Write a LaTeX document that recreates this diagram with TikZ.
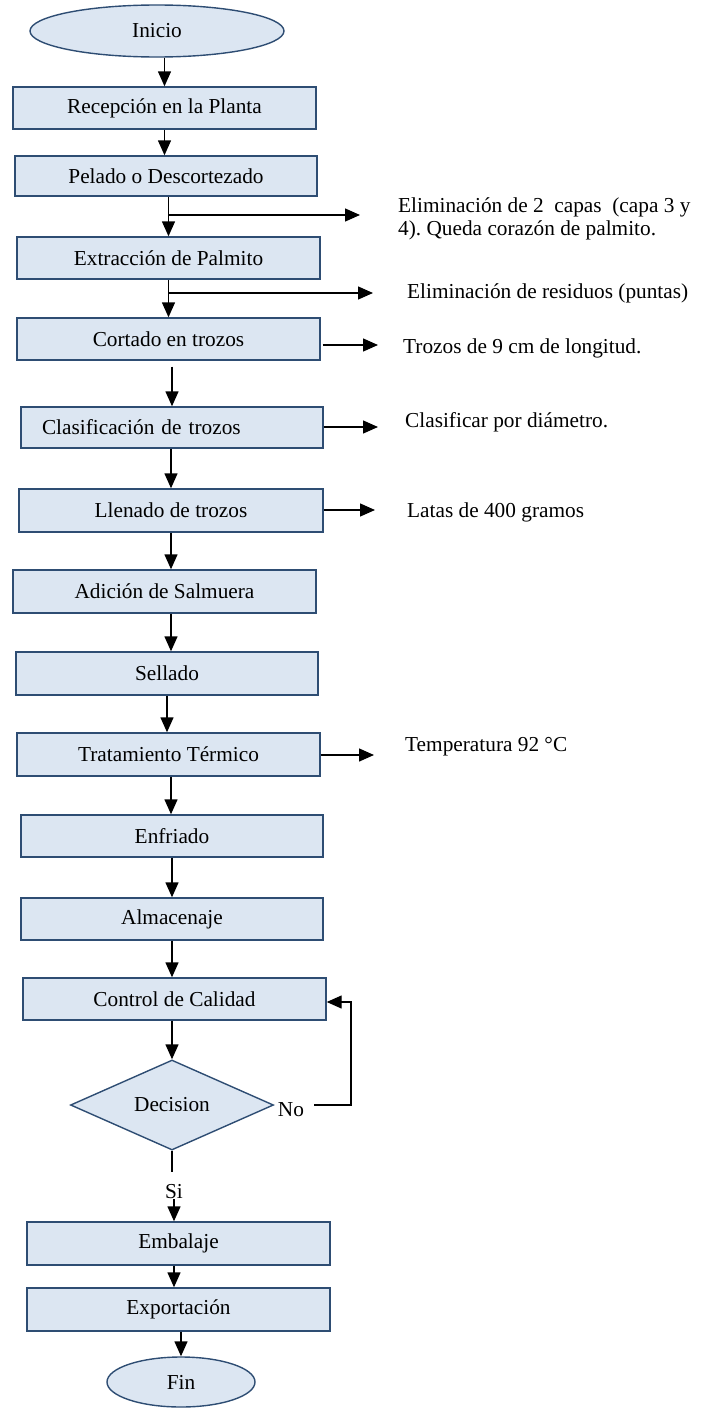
\documentclass[tikz,border=0pt]{standalone}
\usepackage{fontspec}
\setmainfont{Liberation Serif}
\usetikzlibrary{shapes.geometric,arrows.meta}
\definecolor{boxfill}{HTML}{DCE6F2}
\definecolor{boxborder}{HTML}{2E4D73}
\newcommand{\fs}{\fontsize{21.3}{23.5}\selectfont}
\frenchspacing
\begin{document}
\begin{tikzpicture}[x=1pt,y=-1pt,
  box/.style={draw=boxborder, fill=boxfill, line width=1.4pt, inner sep=0pt, font=\fs, minimum width=303pt, minimum height=42pt},
  term/.style={ellipse, draw=boxborder, fill=boxfill, line width=1.4pt, inner sep=0pt, font=\fs},
  arr/.style={-{Triangle[length=15pt,width=13pt]}, line width=1.4pt},
  plain/.style={line width=1.4pt},
  note/.style={anchor=west, inner sep=0pt, font=\fs, align=left},
  lbl/.style={inner sep=0pt, font=\fs}]
\useasboundingbox (0,0) rectangle (704,1408);

% main nodes
\node[term, minimum width=254pt, minimum height=52pt] (inicio) at (157,31) {Inicio};
\node[box] (recep) at (164.5,108) {Recepción en la Planta};
\node[box, minimum width=302pt, minimum height=40pt] (pelado) at (166,176) {Pelado o Descortezado};
\node[box] (extrac) at (168.5,258) {Extracción de Palmito};
\node[box] (cortado) at (168.5,339) {Cortado en trozos};
\node[box, minimum width=302pt, minimum height=41pt, text width=260pt, inner xsep=21pt, align=left] (clasif) at (172,427.5) {Clasificación de trozos};
\node[box, minimum width=304pt, minimum height=43pt] (llenado) at (171,510.5) {Llenado de trozos};
\node[box, minimum height=43pt] (adicion) at (164.5,591.5) {Adición de Salmuera};
\node[box, minimum width=302pt, minimum height=43pt] (sellado) at (167,673.5) {Sellado};
\node[box, minimum height=43pt] (tratam) at (168.5,754.5) {Tratamiento Térmico};
\node[box, minimum width=302pt] (enfriado) at (172,836) {Enfriado};
\node[box, minimum width=302pt] (almac) at (172,919) {Almacenaje};
\node[box] (control) at (174.5,999) {Control de Calidad};
\node[diamond, draw=boxborder, fill=boxfill, line width=1.4pt, inner sep=0pt, font=\fs, minimum width=203pt, minimum height=88pt] (decision) at (172,1105) {Decision};
\node[box, minimum height=43pt] (embalaje) at (178.5,1243.5) {Embalaje};
\node[box, minimum height=43pt] (export) at (178.5,1309.5) {Exportación};
\node[term, minimum width=148pt, minimum height=50pt] (fin) at (181,1382) {Fin};

% side notes
\node[note] (n1) at (398,219) {Eliminación de 2\ \ capas\ \ (capa 3 y\\4). Queda corazón de palmito.};
\node[note] (n2) at (407,293) {Eliminación de residuos (puntas)};
\node[note] (n3) at (403,348) {Trozos de 9 cm de longitud.};
\node[note] (n4) at (405,422) {Clasificar por diámetro.};
\node[note] (n5) at (407,512) {Latas de 400 gramos};
\node[note] (n6) at (405,747) {Temperatura 92 °C};

% labels
\node[lbl] (no) at (291,1110) {No};
\node[lbl] (si) at (174,1192) {Si};

% branch end points
\coordinate (t1) at (360,215);
\coordinate (t2) at (373,293);
\coordinate (t3) at (378,345);
\coordinate (t4) at (378,427);
\coordinate (t5) at (375,510);
\coordinate (t6) at (374,755);
\coordinate (loopA) at (351,1105);
\coordinate (loopB) at (351,1002);

% main flow
\draw[arr] (inicio.south -| recep.north) -- (recep.north);
\draw[arr] (recep.south) -- (recep.south |- pelado.north);
\draw[arr] (pelado.south -| extrac.north) -- (extrac.north);
\draw[arr] (extrac.south) -- (cortado.north);
\draw[arr, shorten <=6pt] (cortado.south -| clasif.north) -- (clasif.north);
\draw[arr] (clasif.south -| llenado.north) -- (llenado.north);
\draw[arr] (llenado.south) -- (llenado.south |- adicion.north);
\draw[arr] (adicion.south -| llenado.south) -- (llenado.south |- sellado.north);
\draw[arr] (sellado.south) -- (sellado.south |- tratam.north);
\draw[arr] (tratam.south -| llenado.south) -- (llenado.south |- enfriado.north);
\draw[arr] (enfriado.south) -- (almac.north);
\draw[arr] (almac.south) -- (almac.south |- control.north);
\draw[arr] (control.south -| decision.north) -- (decision.north);
\draw[plain] (decision.south) -- ++(0,21);
\draw[arr] (si.south -| si) ++(0,0) coordinate (sib) -- (sib |- embalaje.north);
\draw[arr] (embalaje.south -| sib) -- (sib |- export.north);
\draw[arr] (export.south -| fin.north) -- (fin.north);

% side arrows
\draw[arr] (t1 -| extrac.north) -- (t1);
\draw[arr] (t2 -| extrac.north) -- (t2);
\draw[arr] (t3 -| cortado.east) ++(2,0) -- (t3);
\draw[arr] (t4 -| clasif.east) -- (t4);
\draw[arr] (t5 -| llenado.east) -- (t5);
\draw[arr] (t6 -| tratam.east) -- (t6);

% loop back
\draw[arr] (loopA -| no.east) ++(10,0) -- (loopA) -- (loopB) -- (loopB -| control.east);
\end{tikzpicture}
\end{document}
